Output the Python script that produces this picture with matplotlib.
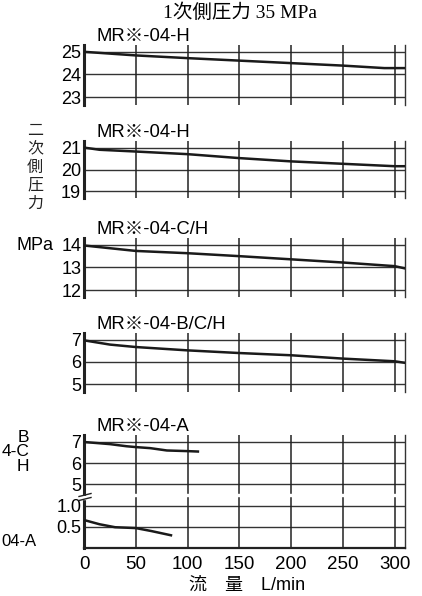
import numpy as np
import matplotlib
matplotlib.use("Agg")
import matplotlib.pyplot as plt

# flow rate (L/min) and secondary pressure (MPa)
flow_h1 = [0, 50, 100, 150, 200, 250, 290, 310]
pres_h1 = [25.0, 24.84, 24.72, 24.61, 24.5, 24.39, 24.28, 24.28]

flow_h2 = [0, 15, 50, 100, 150, 200, 250, 300, 310]
pres_h2 = [21.0, 20.9, 20.82, 20.7, 20.52, 20.37, 20.26, 20.15, 20.15]

flow_ch = [0, 50, 100, 150, 200, 250, 300, 310]
pres_ch = [13.97, 13.73, 13.63, 13.5, 13.36, 13.22, 13.06, 12.96]

flow_bch = [0, 25, 50, 100, 150, 200, 250, 300, 310]
pres_bch = [6.97, 6.78, 6.67, 6.52, 6.4, 6.3, 6.15, 6.03, 5.96]

flow_a_hi = [0, 25, 41, 50, 64, 80, 100, 110]
pres_a_hi = [7.0, 6.9, 6.8, 6.76, 6.71, 6.6, 6.57, 6.55]

flow_a_lo = [0, 15, 30, 50, 65, 84]
pres_a_lo = [0.66, 0.56, 0.49, 0.47, 0.40, 0.30]

panel_labels = ["MR※-04-H", "MR※-04-H", "MR※-04-C/H", "MR※-04-B/C/H", "MR※-04-A"]
panel_ticks = [[23, 24, 25], [19, 20, 21], [12, 13, 14], [5, 6, 7], [0.5, 1.0, 5, 6, 7]]
panel_ylims = [(22.65, 25.3), (18.7, 21.3), (11.7, 14.3), (4.65, 7.3), (0, 7.33)]
x_ticks = [0, 50, 100, 150, 200, 250, 300]

SANS = ["Liberation Sans", "Noto Sans CJK JP"]
SERIF = ["Liberation Serif", "Noto Sans CJK JP"]
plt.rcParams["font.family"] = SANS

W, H = 422, 596
fig = plt.figure(figsize=(W / 100, H / 100), dpi=100)

# axes boxes in pixels: (top, bottom)
boxes = [(45, 105), (141, 198), (238, 297), (333, 392), (435, 548)]
left_px, right_px = 84, 405


# broken axis for bottom panel: 0..1.0 stretched, gap, then 5..7
def fwd(v):
    v = np.asarray(v, dtype=float)
    return np.where(v <= 1.0, 2 * v, np.where(v >= 5, v - 2, 2 + (v - 1) / 4))


def inv(t):
    t = np.asarray(t, dtype=float)
    return np.where(t <= 2, t / 2, np.where(t >= 3, t + 2, 1 + (t - 2) * 4))


series = [(flow_h1, pres_h1), (flow_h2, pres_h2), (flow_ch, pres_ch),
          (flow_bch, pres_bch), None]

axes = []
for i, (top, bot) in enumerate(boxes):
    ax = fig.add_axes([left_px / W, 1 - bot / H, (right_px - left_px) / W, (bot - top) / H])
    axes.append(ax)
    ax.set_xlim(0, 310)
    if i == 4:
        ax.set_yscale("function", functions=(fwd, inv))
    ax.set_ylim(*panel_ylims[i])
    ax.set_yticks(panel_ticks[i])
    if i == 4:
        ax.set_yticklabels(["0.5", "1.0", "5", "6", "7"])
    ax.tick_params(axis="y", length=0, pad=2, labelsize=13)
    ax.set_xticks(x_ticks)
    if i == 4:
        ax.tick_params(axis="x", length=0, pad=6, labelsize=13.5)
    else:
        ax.tick_params(axis="x", length=0, labelbottom=False)

    for yv in panel_ticks[i]:
        ax.axhline(yv, color="#333333", lw=1.0, zorder=1)
    for xv in x_ticks[1:]:
        ax.axvline(xv, color="#222222", lw=1.1, zorder=1)

    for side in ["top", "bottom"]:
        ax.spines[side].set_visible(False)
    ax.spines["left"].set_linewidth(2.2)
    ax.spines["left"].set_color("#222222")
    ax.spines["right"].set_linewidth(1.0)
    ax.spines["right"].set_color("#333333")
    if i == 4:
        ax.spines["bottom"].set_visible(True)
        ax.spines["bottom"].set_linewidth(1.6)
        ax.spines["bottom"].set_color("#222222")

    if series[i] is not None:
        fx, fy = series[i]
        ax.plot(fx, fy, color="#1a1a1a", lw=1.8, zorder=3)

    ax.text(0.04, 1.0, panel_labels[i], transform=ax.transAxes, ha="left", va="bottom",
            fontsize=13.3, family=SANS)

ax5 = axes[4]
ax5.plot(flow_a_hi, pres_a_hi, color="#1a1a1a", lw=1.8, zorder=3)
ax5.plot(flow_a_lo, pres_a_lo, color="#1a1a1a", lw=1.8, zorder=3)
# axis break between 1.0 and 5
ax5.axhspan(2.85, 3.15, color="white", zorder=2)
for dy in (-2.0, 2.0):
    yp = 1 - 497 / H + dy / H
    fig.add_artist(plt.Line2D([79 / W, 91 / W], [yp - 1.5 / H, yp + 1.5 / H],
                              color="#222222", lw=1.0))
fig.add_artist(plt.Rectangle((81 / W, 1 - 498.5 / H), 6 / W, 3 / H, color="white"))

fig.text(240 / W, 1 - 13 / H, "1次側圧力 35 MPa", ha="center", va="center",
         fontsize=14, family=SERIF)
fig.text(35 / W, 1 - 167 / H, "二\n次\n側\n圧\n力", ha="center", va="center",
         fontsize=11.5, family=["Noto Sans CJK JP"], linespacing=1.1, color="#222222")
fig.text(53 / W, 1 - 245 / H, "MPa", ha="right", va="center", fontsize=13)
fig.text(29 / W, 1 - 452 / H, "B\n4-C\nH", ha="right", va="center", fontsize=12.5,
         linespacing=0.95)
fig.text(1 / W, 1 - 542 / H, "04-A", ha="left", va="center", fontsize=12)
fig.text(247 / W, 1 - 585 / H, "流　量　L/min", ha="center", va="center",
         fontsize=13, family=SANS)

fig.savefig("out.png", dpi=100)
